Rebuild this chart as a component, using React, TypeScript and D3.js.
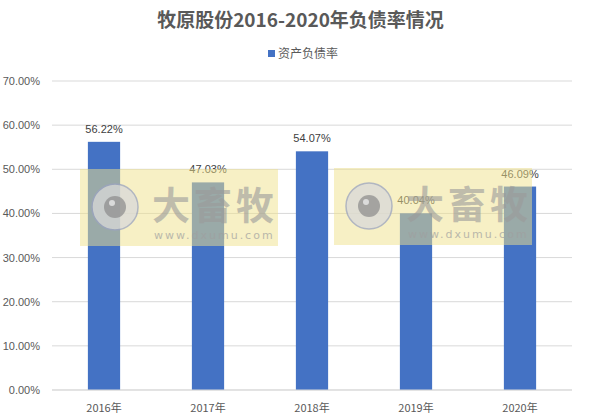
import React from "react";
import * as d3 from "d3";

const categories = ["2016年", "2017年", "2018年", "2019年", "2020年"];
const values = [56.22, 47.03, 54.07, 40.04, 46.09];
const yTicks = [0, 10, 20, 30, 40, 50, 60, 70];
const title = "牧原股份2016-2020年负债率情况";
const seriesName = "资产负债率";

const W = 601, H = 420;
const margin = { left: 52, right: 29, top: 81, bottom: 30 };

function Watermark({ x, y }: { x: number; y: number }) {
  return (
    <g transform={`translate(${x},${y})`} pointerEvents="none">
      <rect x={0} y={0} width={198} height={77} fill="rgb(240,226,140)" opacity={0.5} />
      <circle cx={35} cy={38} r={23} fill="#d9d9d9" opacity={0.75} stroke="#9aa3c0" strokeWidth={1.5} />
      <circle cx={35} cy={38} r={11} fill="#8a8a8a" opacity={0.7} />
      <circle cx={32} cy={34} r={3} fill="#e8e8e8" opacity={0.8} />
      <text x={72} y={50} fontSize={38} fontWeight="bold" fill="#9a9a9a" opacity={0.6}
        fontFamily="'Noto Sans CJK SC', sans-serif" letterSpacing={4}>大畜牧</text>
      <text x={74} y={70} fontSize={11} fill="#a0a0a0" opacity={0.7}
        fontFamily="'DejaVu Sans', sans-serif" letterSpacing={2}>www.dxumu.com</text>
    </g>
  );
}

export default function App() {
  const x = d3.scaleBand().domain(categories).range([margin.left, W - margin.right]).paddingInner(0.69).paddingOuter(0.345);
  const y = d3.scaleLinear().domain([0, 70]).range([H - margin.bottom, margin.top]);
  const font = "'Noto Sans CJK SC', 'Liberation Sans', sans-serif";
  return (
    <svg width={W} height={H} style={{ position: "absolute", left: 0, top: 0, background: "#fff" }} fontFamily={font}>
      <rect width={W} height={H} fill="#fff" />
      <text x={W / 2} y={27} textAnchor="middle" fontSize={19} fontWeight="bold" fill="#595959">{title}</text>
      <rect x={268} y={50} width={7} height={7} fill="#4472c4" />
      <text x={278} y={58} fontSize={12} fill="#595959">{seriesName}</text>
      {yTicks.map((t) => (
        <g key={t}>
          <line x1={margin.left} x2={W - margin.right} y1={y(t)} y2={y(t)} stroke="#d9d9d9" strokeWidth={1} />
          <text x={40} y={y(t) + 4} textAnchor="end" fontSize={11} fill="#595959" fontFamily="'Liberation Sans', sans-serif">{t.toFixed(2)}%</text>
        </g>
      ))}
      {categories.map((c, i) => (
        <g key={c}>
          <rect x={x(c)!} y={y(values[i])} width={x.bandwidth()} height={y(0) - y(values[i])} fill="#4472c4" />
          <text x={x(c)! + x.bandwidth() / 2} y={y(values[i]) - 9} textAnchor="middle" fontSize={11} fill="#404040" fontFamily="'Liberation Sans', sans-serif">{values[i].toFixed(2)}%</text>
          <text x={x(c)! + x.bandwidth() / 2} y={H - 8} textAnchor="middle" fontSize={11} fill="#595959">{c}</text>
        </g>
      ))}
      <line x1={margin.left} x2={W - margin.right} y1={y(0)} y2={y(0)} stroke="#d9d9d9" strokeWidth={1} />
      <Watermark x={80} y={169} />
      <Watermark x={334} y={168} />
    </svg>
  );
}
